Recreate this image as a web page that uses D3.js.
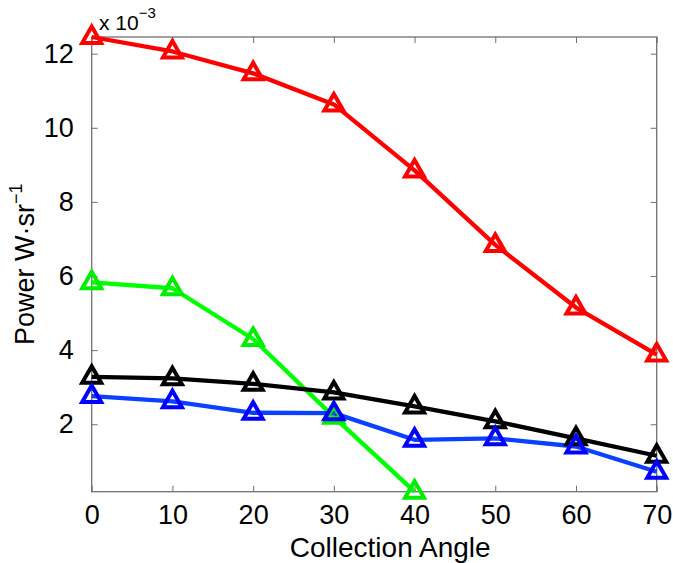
<!DOCTYPE html>
<html>
<head>
<meta charset="utf-8" />
<title>Power vs Collection Angle</title>
<script src="https://cdn.jsdelivr.net/npm/d3@7"></script>
<style>
	body { margin: 0; background: #fff; }
	text { font-family: "Liberation Sans", Arial, sans-serif; fill: #000; }
</style>
</head>
<body>
<svg width="673" height="563"></svg>
<script>
// collection angle (deg)
const angles = [0, 10, 20, 30, 40, 50, 60, 70];
// power values, x 10^-3 W/sr
const redVals   = [12.45, 12.06, 11.47, 10.63, 8.85, 6.84, 5.15, 3.88];
const greenVals = [5.83, 5.67, 4.30, 2.20, 0.18];
const blackVals = [3.28, 3.24, 3.09, 2.86, 2.48, 2.08, 1.62, 1.15];
const blueVals  = [2.76, 2.62, 2.31, 2.30, 1.58, 1.62, 1.40, 0.72];
const xTicks = [0, 10, 20, 30, 40, 50, 60, 70];
const yTicks = [2, 4, 6, 8, 10, 12];

const series = [
	{ vals: redVals,   line: '#ff0000', mark: '#ff0000' },
	{ vals: greenVals, line: '#00ff00', mark: '#00ee00' },
	{ vals: blackVals, line: '#000000', mark: '#000000' },
	{ vals: blueVals,  line: '#0a40ff', mark: '#0000ff' }
];

const padL = 91.7, padR = 656.7, padT = 37, padB = 491.7;
const svg = d3.select('svg');

const x = d3.scaleLinear().domain([0, 70]).range([padL, padR]);
const y = d3.scaleLinear().domain([0.18, 12.45]).range([padB, padT]);

// axes box with inward ticks on all four sides
const axColor = '#707070';
function styleAxis(g) {
	g.select('.domain').remove();
	g.selectAll('.tick line').attr('stroke', axColor).attr('stroke-width', 1);
	g.selectAll('.tick text').style('font-size', '27px').attr('fill', '#000');
}
svg.append('g').attr('transform', 'translate(0,' + padB + ')')
	.call(d3.axisBottom(x).tickValues(xTicks).tickSizeInner(-6).tickPadding(13).tickFormat(d3.format('d')))
	.call(styleAxis)
	.selectAll('.tick text').attr('dy', '0.71em');
svg.append('g').attr('transform', 'translate(0,' + padT + ')')
	.call(d3.axisTop(x).tickValues(xTicks).tickSizeInner(-6).tickFormat(''))
	.call(styleAxis);
svg.append('g').attr('transform', 'translate(' + padL + ',0)')
	.call(d3.axisLeft(y).tickValues(yTicks).tickSizeInner(-6).tickPadding(18).tickFormat(d3.format('d')))
	.call(styleAxis);
svg.append('g').attr('transform', 'translate(' + padR + ',0)')
	.call(d3.axisRight(y).tickValues(yTicks).tickSizeInner(-6).tickFormat(''))
	.call(styleAxis);

svg.append('rect')
	.attr('x', padL).attr('y', padT)
	.attr('width', padR - padL).attr('height', padB - padT)
	.attr('fill', 'none').attr('stroke', axColor).attr('stroke-width', 1.3);

// lines then markers
const line = d3.line().x((d, i) => x(angles[i])).y(d => y(d));
const tri = 'M0,-10.5L9.5,6L-9.5,6Z';

series.forEach(s => {
	svg.append('path')
		.datum(s.vals)
		.attr('d', line)
		.attr('fill', 'none')
		.attr('stroke', s.line)
		.attr('stroke-width', 4.3)
		.attr('stroke-linejoin', 'round');
});
series.forEach(s => {
	svg.append('g').selectAll('path')
		.data(s.vals).enter()
		.append('path')
		.attr('d', tri)
		.attr('transform', (d, i) => 'translate(' + x(angles[i]) + ',' + y(d) + ')')
		.attr('fill', 'none')
		.attr('stroke', s.mark)
		.attr('stroke-width', 4);
});

// exponent label
const ex = svg.append('text').attr('x', 99).attr('y', 30).style('font-size', '21px');
ex.append('tspan').text('x 10');
ex.append('tspan').attr('dy', -12).style('font-size', '15px').text('\u22123');

// axis titles
svg.append('text')
	.attr('x', (padL + padR) / 2 + 16).attr('y', 557)
	.attr('text-anchor', 'middle')
	.style('font-size', '28px')
	.text('Collection Angle');

const yl = svg.append('text')
	.attr('transform', 'translate(34,' + ((padT + padB) / 2) + ') rotate(-90)')
	.attr('text-anchor', 'middle')
	.style('font-size', '27px');
yl.append('tspan').text('Power W\u00b7sr');
yl.append('tspan').attr('dy', -12).style('font-size', '18px').text('\u22121');
</script>
</body>
</html>
